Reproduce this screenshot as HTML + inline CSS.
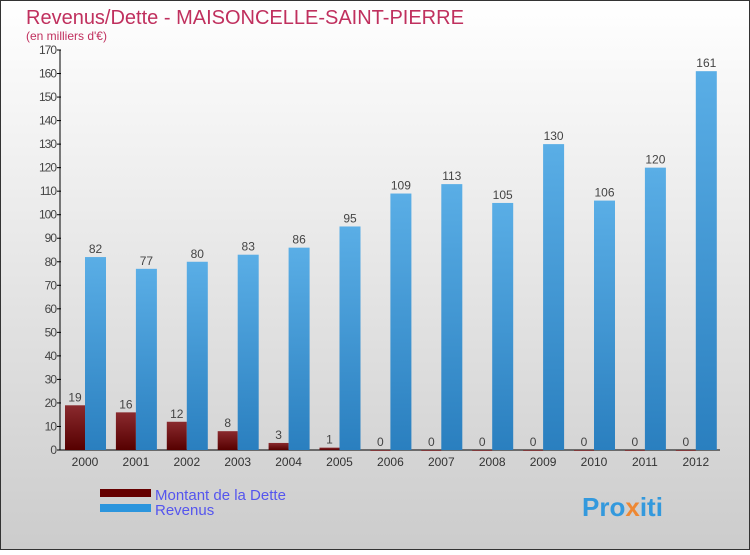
<!DOCTYPE html>
<html><head><meta charset="utf-8"><style>
body{margin:0;width:750px;height:550px;overflow:hidden;font-family:"Liberation Sans",sans-serif}
</style></head><body>
<svg width="750" height="550" xmlns="http://www.w3.org/2000/svg">
<defs>
<linearGradient id="bg" x1="0" y1="0" x2="0" y2="1"><stop offset="0" stop-color="#ffffff"/><stop offset="1" stop-color="#cccccc"/></linearGradient>
<linearGradient id="gd" x1="0" y1="0" x2="0" y2="1"><stop offset="0" stop-color="#8a2a2e"/><stop offset="1" stop-color="#560000"/></linearGradient>
<linearGradient id="gr" x1="0" y1="0" x2="0" y2="1"><stop offset="0" stop-color="#5aaee6"/><stop offset="1" stop-color="#2a7fbf"/></linearGradient>
</defs>
<rect x="0.5" y="0.5" width="749" height="549" fill="url(#bg)" stroke="#333"/>
<text x="26" y="24" font-size="20" fill="#c0305e">Revenus/Dette - MAISONCELLE-SAINT-PIERRE</text>
<text x="26" y="40" font-size="12" fill="#c0305e">(en milliers d'€)</text>
<g id="axes"></g>
<g id="bars"></g>
<rect x="100" y="489" width="51" height="8" fill="#660000"/>
<text x="155" y="500" font-size="15" fill="#5555ee">Montant de la Dette</text>
<rect x="100" y="504" width="51" height="8" fill="#2b95dd"/>
<text x="155" y="515" font-size="15" fill="#5555ee">Revenus</text>
<text x="582" y="516" font-size="26" font-weight="bold" fill="#3399dd">Pro<tspan fill="#ee8833">x</tspan>iti</text>
</svg>
<script>
const years=['2000','2001','2002','2003','2004','2005','2006','2007','2008','2009','2010','2011','2012'];
const dette=[19,16,12,8,3,1,0,0,0,0,0,0,0];
const revenus=[82,77,80,83,86,95,109,113,105,130,106,120,161];
const yTicks=[0,10,20,30,40,50,60,70,80,90,100,110,120,130,140,150,160,170];
const NS='http://www.w3.org/2000/svg';
const y0=450,y1=50,vmax=170,xc0=85,step=50.9;
const Y=v=>y0-(v/vmax)*(y0-y1);
const X=i=>xc0+i*step;
function mk(t,a,p){const e=document.createElementNS(NS,t);for(const k in a)e.setAttribute(k,a[k]);p.appendChild(e);return e;}
const ax=document.getElementById('axes'),bg=document.getElementById('bars');
let l=mk('line',{x1:60,y1:y1,x2:60,y2:y0,stroke:'#000'},ax);


l=mk('line',{x1:60,y1:y0,x2:720,y2:y0,stroke:'#000'},ax);


yTicks.forEach(v=>{
 const t=mk('line',{x1:57,x2:61,y1:Y(v),y2:Y(v),stroke:'#000'},ax);
 
 
 const tx=mk('text',{x:56,y:Y(v)+4,'font-size':12,fill:'#444','text-anchor':'end','letter-spacing':'-1'},ax);
 tx.textContent=v;
 
 
});
years.forEach((yr,i)=>{
 const c=X(i);
 const t=mk('text',{x:c,y:466,'font-size':12,fill:'#333','text-anchor':'middle'},ax);
 t.textContent=yr;
 
 
 const d=mk('rect',{x:c-20,y:Y(dette[i]),width:20,height:Math.max(y0-Y(dette[i]),dette[i]>0?0:0.8),fill:'url(#gd)'},bg);
 
 
 const r=mk('rect',{x:c,y:Y(revenus[i]),width:21,height:y0-Y(revenus[i]),fill:'url(#gr)'},bg);
 
 
 const dl=mk('text',{x:c-10,y:Y(dette[i])-4,'font-size':12,fill:'#444','text-anchor':'middle'},bg);
 dl.textContent=dette[i];
 
 
 const rl=mk('text',{x:c+10.5,y:Y(revenus[i])-4,'font-size':12,fill:'#444','text-anchor':'middle'},bg);
 rl.textContent=revenus[i];
 
 
});
</script>
</body></html>
